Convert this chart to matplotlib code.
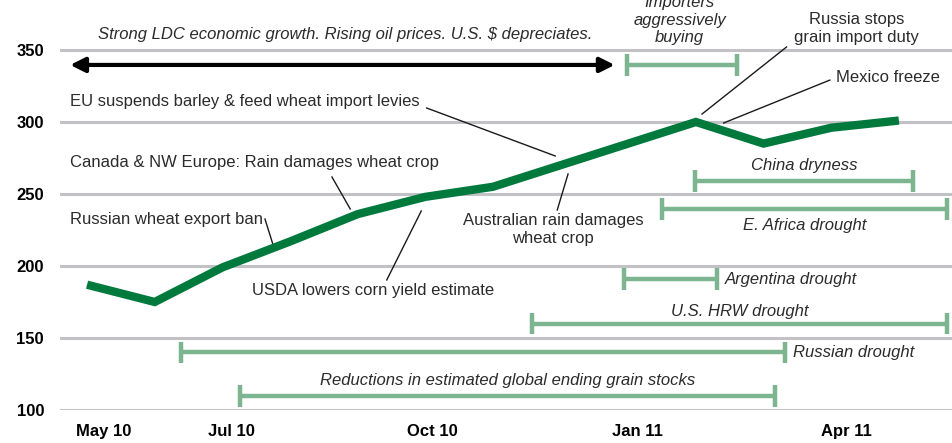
import matplotlib
matplotlib.use("Agg")
import matplotlib.pyplot as plt
import numpy as np

plt.rcParams['font.family'] = ['Liberation Sans Narrow', 'Liberation Sans', 'DejaVu Sans']

# monthly index, May 2010 .. May 2011
months = ["May 10", "Jun 10", "Jul 10", "Aug 10", "Sep 10", "Oct 10", "Nov 10",
          "Dec 10", "Jan 11", "Feb 11", "Mar 11", "Apr 11", "May 11"]
prices = [187, 175, 199, 217, 236, 248, 255, 270, 285, 300, 285, 296, 301]

tick_labels = ["May 10", "Jul 10", "Oct 10", "Jan 11", "Apr 11"]
tick_pos = [0.24, 2.14, 5.11, 8.13, 11.22]
yticks = [100, 150, 200, 250, 300, 350]

# event ranges: (label, start, end, level)
events = [
    ("Importers\naggressively\nbuying", 7.98, 9.61, 339.6),
    ("China dryness", 8.98, 12.21, 259),
    ("E. Africa drought", 8.50, 12.71, 239.6),
    ("Argentina drought", 7.94, 9.31, 191),
    ("U.S. HRW drought", 6.58, 12.71, 160),
    ("Russian drought", 1.39, 10.31, 140),
    ("Reductions in estimated global ending grain stocks", 2.26, 10.17, 109.7),
]

LINE = "#00793d"
BAR = "#7db590"
TXT = "#2b2b2b"
GRID = "#c2c2c6"

fig = plt.figure(figsize=(9.53, 4.43), dpi=100)
ax = fig.add_axes([60 / 953, 33 / 443, 893 / 953, 410 / 443])
ax.set_xlim(-0.4, 12.8)
ax.set_ylim(100, 384.7)

for y in yticks:
    ax.axhline(y, color=GRID, lw=2.2, zorder=1)

x = np.arange(len(months))
ax.plot(x, prices, color=LINE, lw=6, solid_joinstyle="miter", solid_capstyle="butt", zorder=5)

# event bars
for lab, s, e, lvl in events:
    ax.plot([s, e], [lvl, lvl], color=BAR, lw=3.2, zorder=3, solid_capstyle="butt")
    for xx in (s, e):
        ax.plot([xx, xx], [lvl - 7.5, lvl + 7.5], color=BAR, lw=3.2, zorder=3,
                solid_capstyle="butt")

ital = dict(fontsize=12, color=TXT, style="italic")
norm = dict(fontsize=12, color=TXT)

ax.text(3.81, 360.4, "Strong LDC economic growth. Rising oil prices. U.S. $ depreciates.",
        ha="center", va="center", **ital)
ax.annotate("", xy=(-0.25, 339.6), xytext=(7.80, 339.6),
            arrowprops=dict(arrowstyle="<|-|>", color="black", lw=3,
                            mutation_scale=22, shrinkA=0, shrinkB=0), zorder=4)

ax.text(8.76, 353.5, events[0][0], ha="center", va="bottom", linespacing=1.2,
        clip_on=False, **ital)
ax.text(10.6, 270.1, events[1][0], ha="center", va="center", **ital)
ax.text(10.61, 228.4, events[2][0], ha="center", va="center", **ital)
ax.text(9.43, 190.3, events[3][0], ha="left", va="center", **ital)
ax.text(9.65, 168.7, events[4][0], ha="center", va="center", **ital)
ax.text(10.43, 139.6, events[5][0], ha="left", va="center", **ital)
ax.text(6.22, 120.8, events[6][0], ha="center", va="center", **ital)

ax.text(11.38, 353.5, "Russia stops\ngrain import duty", ha="center", va="bottom",
        linespacing=1.25, **norm)
ax.text(11.84, 331.2, "Mexico freeze", ha="center", va="center", **norm)
ax.text(-0.25, 313.9, "EU suspends barley & feed wheat import levies", ha="left", va="center", **norm)
ax.text(-0.25, 272.2, "Canada & NW Europe: Rain damages wheat crop", ha="left", va="center", **norm)
ax.text(-0.25, 232.6, "Russian wheat export ban", ha="left", va="center", **norm)
ax.text(2.44, 183.3, "USDA lowers corn yield estimate", ha="left", va="center", **norm)
ax.text(6.89, 225.3, "Australian rain damages\nwheat crop", ha="center", va="center",
        linespacing=1.25, **norm)

pointers = [
    ((5.02, 309.7), (6.92, 276.4)),
    ((3.62, 261.8), (3.89, 239.6)),
    ((2.63, 232.6), (2.75, 214.6)),
    ((4.94, 238.2), (4.43, 190.3)),
    ((7.11, 263.9), (6.95, 238.9)),
    ((10.34, 352.1), (9.09, 305.5)),
    ((10.98, 329.1), (9.41, 299.3)),
]
for (x0, y0), (x1, y1) in pointers:
    ax.plot([x0, x1], [y0, y1], color="#1a1a1a", lw=1.0, zorder=4)

ax.set_yticks(yticks)
ax.set_yticklabels([str(v) for v in yticks], fontsize=12, fontweight="bold")
ax.set_xticks(tick_pos)
ax.set_xticklabels(tick_labels, fontsize=12, fontweight="bold")
ax.tick_params(axis="both", length=0)
ax.tick_params(axis="y", pad=11.5)
ax.tick_params(axis="x", pad=10)
for sp in ax.spines.values():
    sp.set_visible(False)

fig.savefig("out.png", dpi=100)
